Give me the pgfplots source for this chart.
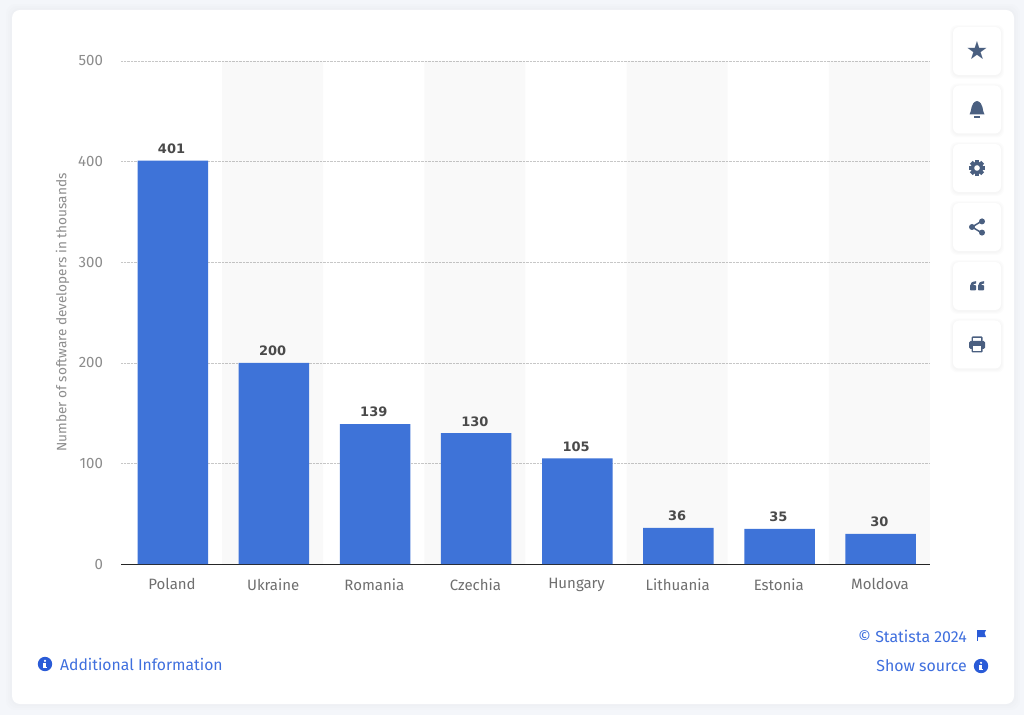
\documentclass[border=0pt]{standalone}
\usepackage{fontspec}
\setmainfont{Fira Sans}
\newfontfamily\djfont{DejaVu Sans}
\usepackage{pgfplots}
\pgfplotsset{compat=1.18}
\definecolor{pagebg}{HTML}{F4F6FA}
\definecolor{barblue}{HTML}{3E73D8}
\definecolor{linkblue}{HTML}{3F6FDE}
\definecolor{infoblue}{HTML}{2A5BD7}
\definecolor{iconslate}{HTML}{4A5F80}
\definecolor{ticktext}{HTML}{8C8C8C}
\definecolor{cattext}{HTML}{6F6F6F}
\definecolor{vallabel}{HTML}{4A4A4A}
\newcommand{\btn}[1]{%
  \foreach \s in {3,2,1}{\fill[black,opacity=0.012,rounded corners=7pt] (953-\s,#1-24-\s-1) rectangle (1001+\s,#1+24+\s-1);}
  \fill[white,rounded corners=6pt] (953,#1-24) rectangle (1001,#1+24);}
\newcommand{\infoicon}[2]{%
  \begin{scope}[shift={(#1,#2)}]
  \fill[infoblue] (0,0) circle (7.2);
  \fill[white] (0,3.2) circle (1.2);
  \fill[white] (-1.6,1.2) rectangle (1,-2.8);
  \fill[white] (-2,-2.6) rectangle (2,-4);
  \end{scope}}
\begin{document}
\begin{tikzpicture}[x=1pt,y=1pt]
\path[use as bounding box,fill=pagebg] (0,0) rectangle (1024,715);
\foreach \s in {6,4,2}{\fill[black,opacity=0.008,rounded corners=9pt] (12-\s,11-\s) rectangle (1014+\s,705+\s);}
\fill[white,rounded corners=8pt] (12,11) rectangle (1014,705);
\begin{axis}[
  at={(121pt,151pt)},anchor=south west,
  scale only axis,width=809pt,height=503pt,
  xmin=-0.5,xmax=7.5,ymin=0,ymax=500,
  axis lines=left,
  x axis line style={-,line width=0.9pt,draw=black!85},
  y axis line style={draw=none},
  xtick={0,1,2,3,4,5,6,7},
  xticklabels={Poland,Ukraine,Romania,Czechia,Hungary,Lithuania,Estonia,Moldova},
  ytick={0,100,200,300,400,500},
  major tick length=0pt,
  ymajorgrids,
  grid style={densely dotted,line width=0.5pt,draw=black!22},
  /pgf/number format/assume math mode=true,
  x tick label style={font=\fontsize{15}{17}\selectfont,text=cattext,yshift=-11pt,xshift=0.5pt},
  y tick label style={font=\fontsize{15}{17}\selectfont,text=ticktext,xshift=-14.5pt},
  ylabel={Number of software developers in thousands},
  ylabel style={font=\fontsize{13.6}{15}\selectfont,text=ticktext,yshift=2pt},
  clip=false,
]
\addplot[ybar,bar width=101.1pt,bar shift=0pt,draw=none,fill=black,fill opacity=0.025,forget plot] coordinates {(1,500)(3,500)(5,500)(7,500)};
\addplot[ybar,bar width=70.5pt,bar shift=1.3pt,draw=none,fill=barblue,
  nodes near coords,
  nodes near coords style={font=\djfont\bfseries\fontsize{13}{15}\selectfont,text=vallabel,yshift=3.5pt},
  point meta=y] coordinates {(0,401)(1,200)(2,139)(3,130)(4,105)(5,36)(6,35)(7,30)};
\end{axis}
% side buttons
\btn{664}\btn{605.5}\btn{547}\btn{488}\btn{429}\btn{370.5}
\node[text=iconslate,inner sep=0pt,font=\djfont\fontsize{25}{25}\selectfont] at (977,664.5) {★};
% bell
\begin{scope}[shift={(977,605.5)}]
\fill[iconslate] (-7.5,-5) .. controls (-5,-2) and (-7,7) .. (0,8.5) .. controls (7,7) and (5,-2) .. (7.5,-5) -- cycle;
\fill[iconslate] (-2.6,-6.5) rectangle (2.6,-8.5);
\end{scope}
% gear
\begin{scope}[shift={(977,547)}]
\foreach \a in {0,45,...,315}{\fill[iconslate,rotate=\a] (-2,5) rectangle (2,8);}
\fill[iconslate] (0,0) circle (6.2);
\fill[white] (0,0) circle (2.8);
\end{scope}
% share
\begin{scope}[shift={(977,488)}]
\draw[iconslate,line width=1.5pt] (5,6)--(-5,0)--(5,-6);
\fill[iconslate] (5,5.6) circle (3) (-5,0) circle (3) (5,-5.6) circle (3);
\end{scope}
% quotes
\begin{scope}[shift={(977,429)}]
\foreach \d in {-7,1}{
\fill[iconslate,rounded corners=0.8pt] (\d,-4.5) rectangle (\d+6,0.8);
\fill[iconslate] (\d,0) .. controls (\d,3) and (\d+2,4.5) .. (\d+6,4.8) -- (\d+6,2.5) .. controls (\d+4,2.5) and (\d+3,1.5) .. (\d+3,0) -- cycle;}
\end{scope}
% printer
\begin{scope}[shift={(977,370.5)}]
\fill[iconslate,rounded corners=1pt] (-5.5,3) rectangle (5.5,8);
\fill[white] (-3.8,3) rectangle (3.8,6.5);
\fill[iconslate,rounded corners=1.5pt] (-8,-4.5) rectangle (8,3.5);
\fill[iconslate,rounded corners=1pt] (-5.5,-8) rectangle (5.5,-2);
\fill[white] (-3.8,-6.3) rectangle (3.8,-1.5);
\end{scope}
% links
\infoicon{45}{51}
\node[anchor=west,inner sep=0pt,text=linkblue,font=\fontsize{15.7}{18}\selectfont] at (60,51) {Additional Information};
\node[anchor=east,inner sep=0pt,text=linkblue,font=\fontsize{15.9}{18}\selectfont] at (967,79) {© Statista 2024};
\node[anchor=east,inner sep=0pt,text=linkblue,font=\fontsize{15.9}{18}\selectfont] at (967,49) {Show source};
\infoicon{981}{49}
\fill[infoblue] (977,74) rectangle (978.3,85);
\fill[infoblue] (978,85) -- (986,85) -- (984.5,82) -- (986,78) -- (978,78) -- cycle;
\end{tikzpicture}
\end{document}
